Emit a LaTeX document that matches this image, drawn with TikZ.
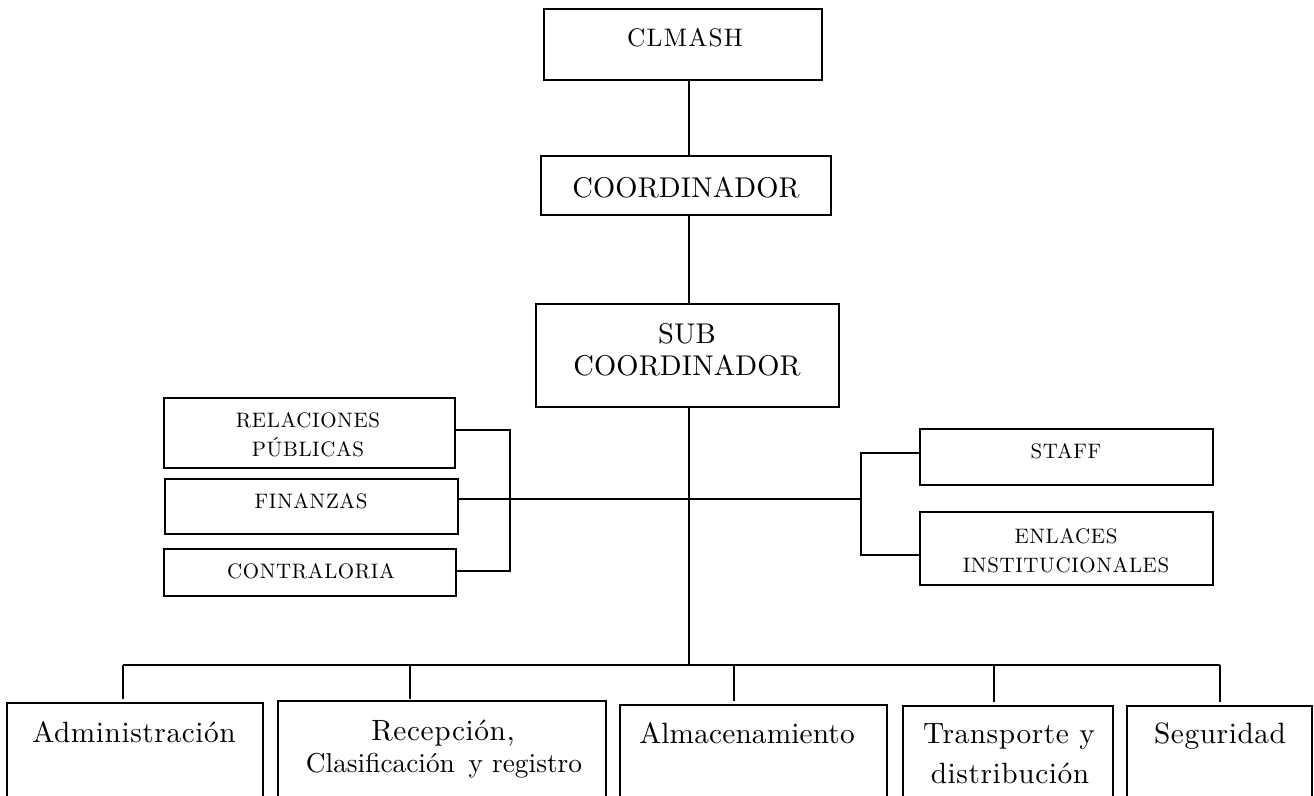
\documentclass[tikz,border=0pt]{standalone}
\usepackage{fontspec}
\setmainfont{lmroman10-regular.otf}
\begin{document}
\begin{tikzpicture}[x=0.75pt,y=-0.75pt,
  bx/.style={draw, line width=1.1pt, inner sep=0pt, outer sep=0pt},
  ln/.style={line width=1.1pt},
  tx/.style={anchor=base, inner sep=0pt, outer sep=0pt},
  ftop/.style={font=\fontsize{19}{22}\selectfont\addfontfeature{LetterSpace=5}},
  fmid/.style={font=\fontsize{21.4}{25}\selectfont\addfontfeature{LetterSpace=0.5}},
  fside/.style={font=\fontsize{15.7}{18}\selectfont\addfontfeature{LetterSpace=3}},
  fbot/.style={font=\fontsize{22}{26}\selectfont\addfontfeature{LetterSpace=2}}]
\useasboundingbox (0,0) rectangle (1314,796);
\clip (0,0) rectangle (1314,796);

% top chain
\node[bx, minimum width=278*0.75pt, minimum height=71*0.75pt] (clm) at (683,44.5) {};
\node[bx, minimum width=290*0.75pt, minimum height=59*0.75pt] (coo) at (686,185.5) {};
\node[bx, minimum width=303*0.75pt, minimum height=103*0.75pt] (sub) at (687.5,355.5) {};
\node[tx, ftop] (tclm) at (685,46) {CLMASH};
\node[tx, fmid] (tcoo) at (686,197) {COORDINADOR};
\node[tx, fmid] (tsub1) at (687,343) {SUB};
\node[tx, fmid] (tsub2) at (687,375) {COORDINADOR};

% left group
\node[bx, minimum width=291*0.75pt, minimum height=70*0.75pt] (rel) at (309.5,433) {};
\node[bx, minimum width=293*0.75pt, minimum height=55*0.75pt] (fin) at (311.5,506.5) {};
\node[bx, minimum width=292*0.75pt, minimum height=47*0.75pt] (con) at (310,572.5) {};
\node[tx, fside] (trel1) at (308,427) {RELACIONES};
\node[tx, fside] (trel2) at (308,456) {PÚBLICAS};
\node[tx, fside] (tfin) at (311,508) {FINANZAS};
\node[tx, fside] (tcon) at (311,578) {CONTRALORIA};

% right group
\node[bx, minimum width=293*0.75pt, minimum height=56*0.75pt] (sta) at (1066.5,457) {};
\node[bx, minimum width=293*0.75pt, minimum height=73*0.75pt] (enl) at (1066.5,548.5) {};
\node[tx, fside] (tsta) at (1066,458) {STAFF};
\node[tx, fside] (tenl1) at (1066,543) {ENLACES};
\node[tx, fside] (tenl2) at (1066,572) {INSTITUCIONALES};

% bottom row (boxes run past the lower edge)
\node[bx, minimum width=256*0.75pt, minimum height=137*0.75pt] (adm) at (135,771.5) {};
\node[bx, minimum width=328*0.75pt, minimum height=139*0.75pt] (rec) at (442,770.5) {};
\node[bx, minimum width=267*0.75pt, minimum height=136*0.75pt] (alm) at (753.5,773) {};
\node[bx, minimum width=210*0.75pt, minimum height=134*0.75pt] (tra) at (1008,773) {};
\node[bx, minimum width=185*0.75pt, minimum height=134*0.75pt] (seg) at (1219.5,773) {};
\node[tx, fbot] (tadm) at (134,742) {Administración};
\node[tx, fbot] (trec1) at (443,740) {Recepción,};
\node[tx, font=\fontsize{20.5}{24}\selectfont] (trec2) at (444,772) {Clasificación\enspace y registro};
\node[tx, font=\fontsize{22}{26}\selectfont\addfontfeature{LetterSpace=0.5}] (talm) at (747,743) {Almacenamiento};
\node[tx, fbot] (ttra1) at (1009,743) {Transporte y};
\node[tx, fbot] (ttra2) at (1010,783) {distribución};
\node[tx, fbot] (tseg) at (1220,743) {Seguridad};

% junction coordinates
\coordinate (sp) at (689,0);
\coordinate (bus) at (689,665);
\coordinate (lb) at (510,499);
\coordinate (rb) at (861,499);
\coordinate (dA) at (123,665);
\coordinate (dR) at (410,665);
\coordinate (dM) at (734,665);
\coordinate (dT) at (994,665);
\coordinate (dS) at (1220,665);

% connectors
\draw[ln] (clm.south -| sp) -- (coo.north -| sp);
\draw[ln] (coo.south -| sp) -- (sub.north -| sp);
\draw[ln] (sub.south -| sp) -- (bus);
\draw[ln] (fin.east |- rb) -- (rb);
\draw[ln] ([yshift=2.25pt]rel.east) -| (lb);
\draw[ln] ([yshift=1.1pt]con.east) -| (lb);
\draw[ln] ([yshift=3pt]sta.west) -| (rb);
\draw[ln] ([yshift=-4.9pt]enl.west) -| (rb);
\draw[ln] (dA) -- (dS);
\draw[ln] (dA) -- ([yshift=3pt]dA |- adm.north);
\draw[ln] (dR) -- ([yshift=1.5pt]dR |- rec.north);
\draw[ln] (dM) -- ([yshift=3pt]dM |- alm.north);
\draw[ln] (dT) -- ([yshift=3pt]dT |- tra.north);
\draw[ln] (dS) -- ([yshift=3pt]dS |- seg.north);
\end{tikzpicture}
\end{document}
